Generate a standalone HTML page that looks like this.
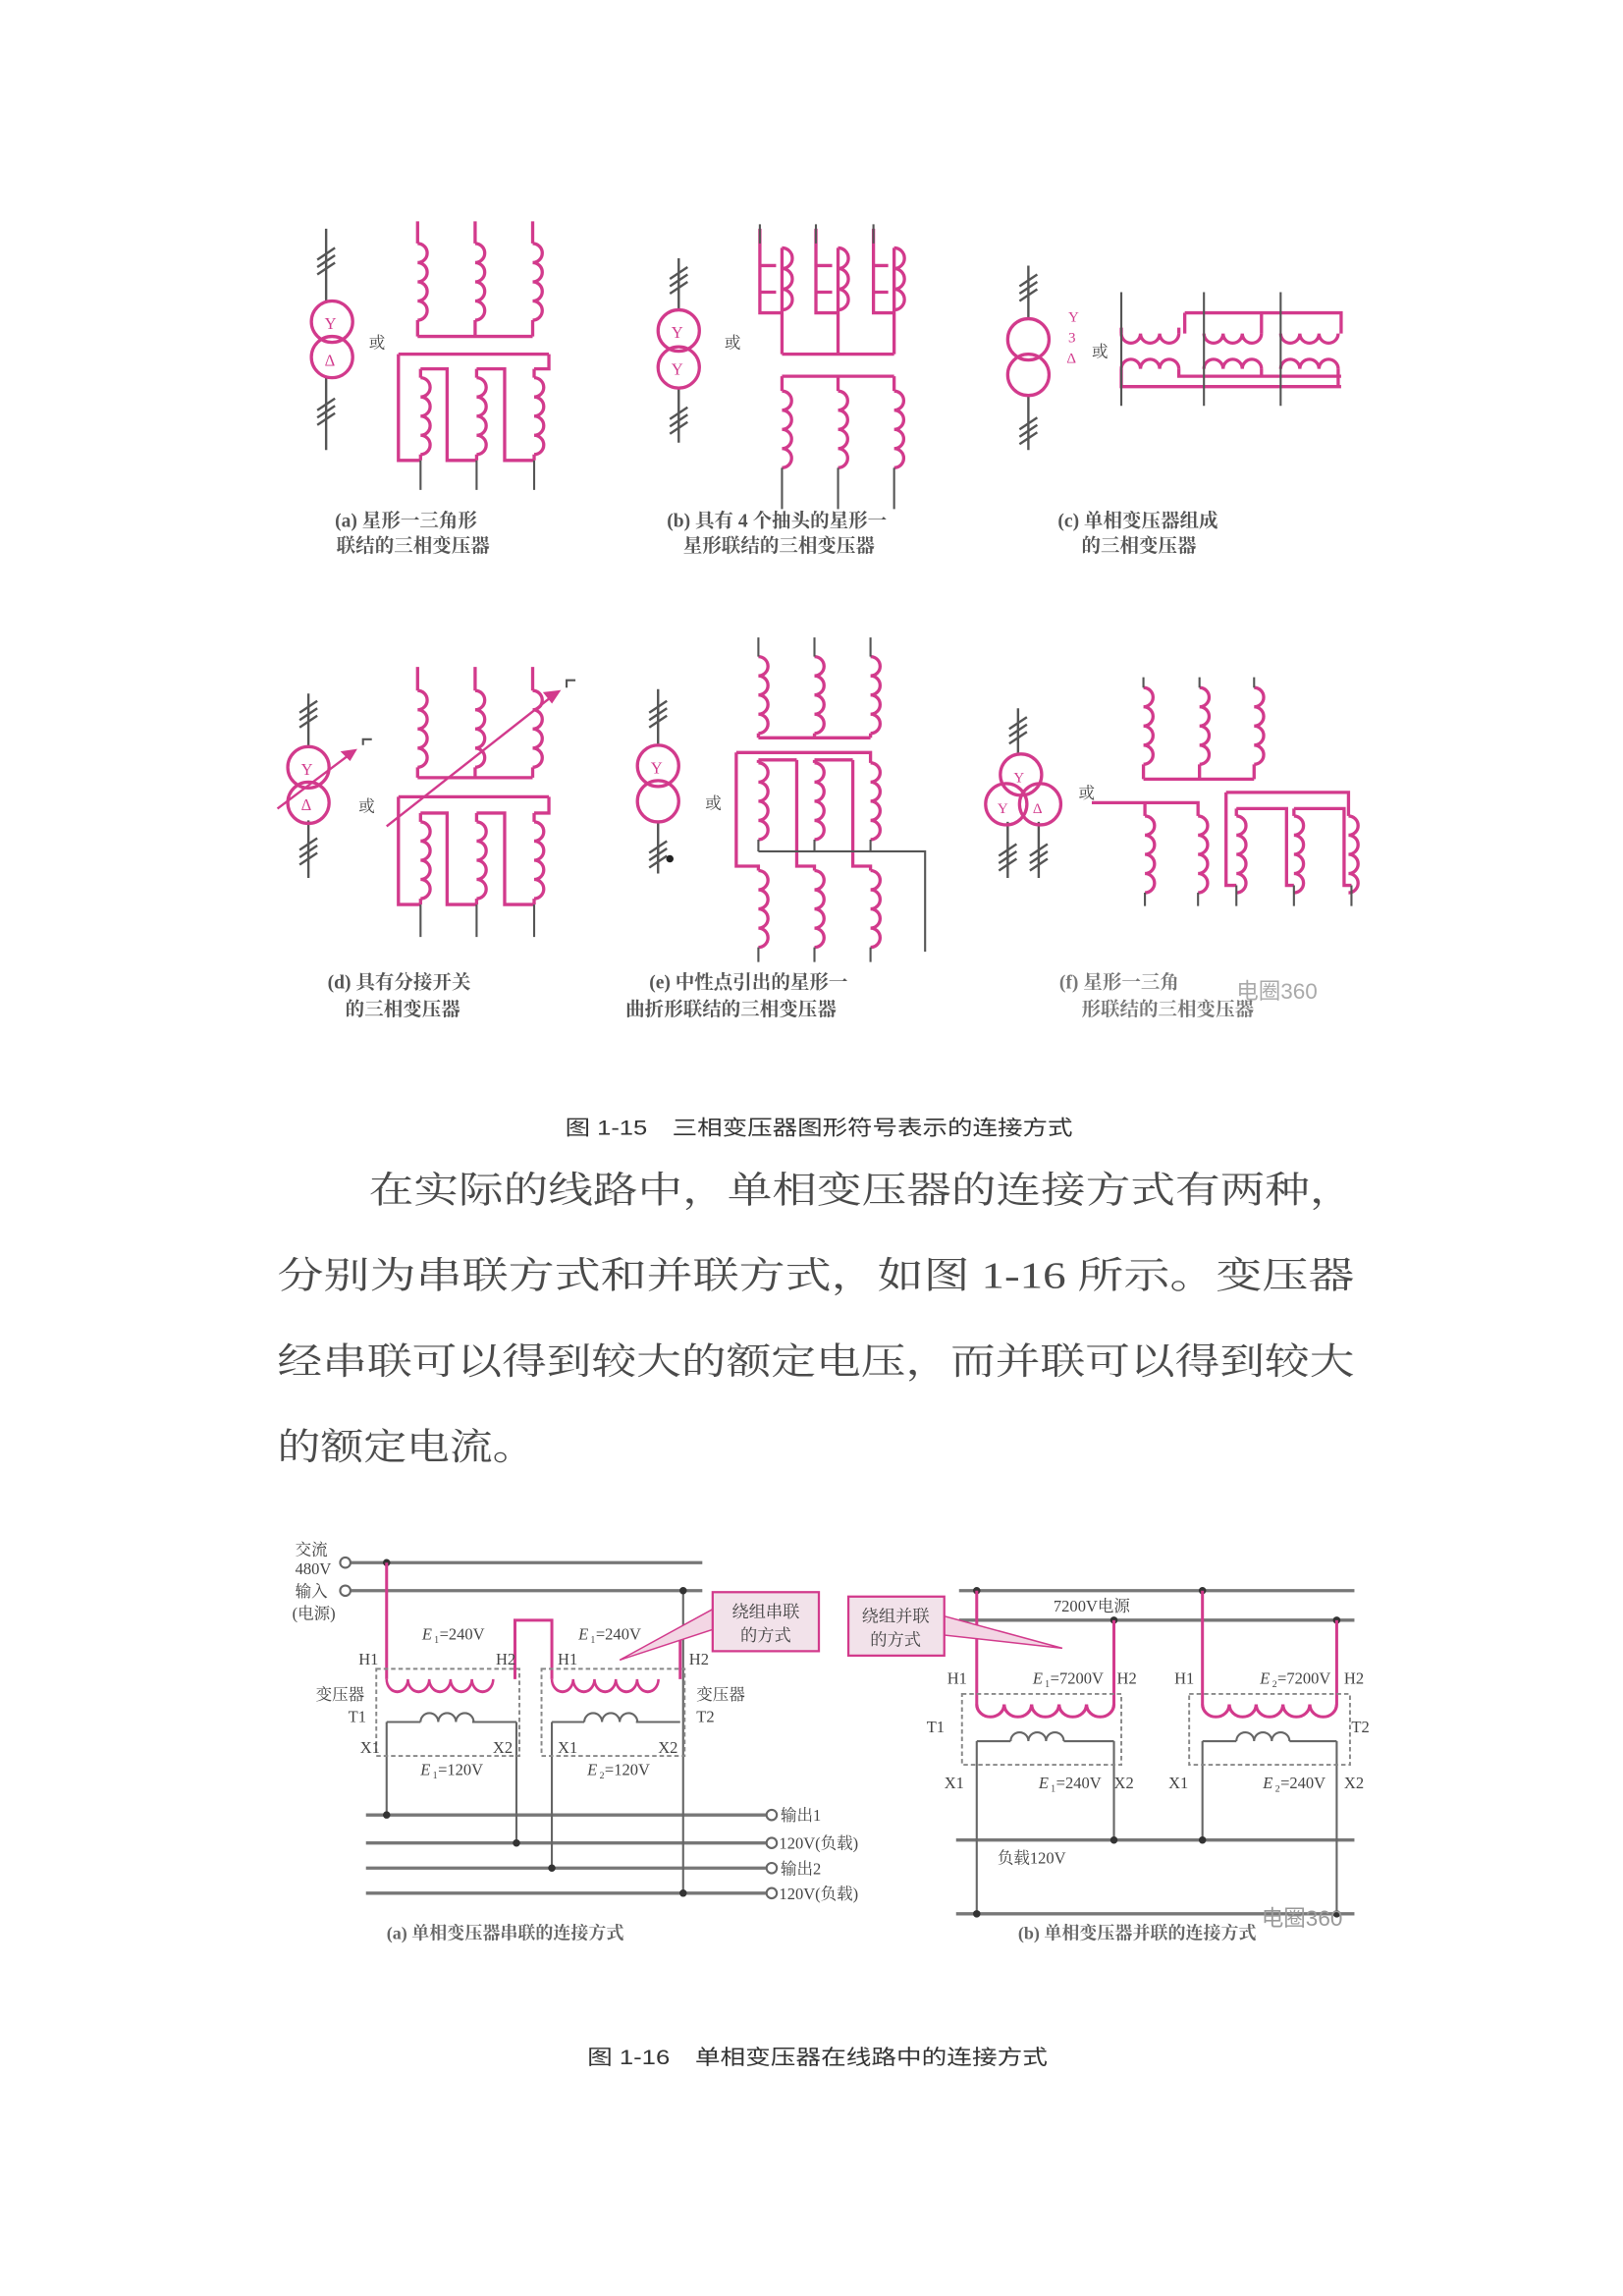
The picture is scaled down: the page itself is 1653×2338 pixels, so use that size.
<!DOCTYPE html>
<html><head><meta charset="utf-8"><style>
html,body{margin:0;padding:0;background:#fff}
svg{display:block}
</style></head><body>
<svg width="1653" height="2338" viewBox="0 0 1100 1556" xmlns="http://www.w3.org/2000/svg">
<defs>
<path id="vc" d="M0,0 a6.5,6.5 0 0 1 0,13 a6.5,6.5 0 0 1 0,13 a6.5,6.5 0 0 1 0,13 a6.5,6.5 0 0 1 0,13" fill="none"/>
<path id="vc3" d="M0,0 a7,7 0 0 1 0,14 a7,7 0 0 1 0,14 a7,7 0 0 1 0,14" fill="none"/>
<path id="hd3" d="M0,0 a6.5,6.5 0 0 0 13,0 a6.5,6.5 0 0 0 13,0 a6.5,6.5 0 0 0 13,0" fill="none"/>
<path id="hu3" d="M0,0 a6.5,6.5 0 0 1 13,0 a6.5,6.5 0 0 1 13,0 a6.5,6.5 0 0 1 13,0" fill="none"/>
<path id="hd5" d="M0,0 a8.5,8.5 0 0 0 17,0 a8.5,8.5 0 0 0 17,0 a8.5,8.5 0 0 0 17,0 a8.5,8.5 0 0 0 17,0 a8.5,8.5 0 0 0 17,0" fill="none"/>
<path id="hu3g" d="M0,0 a6,6 0 0 1 12,0 a6,6 0 0 1 12,0 a6,6 0 0 1 12,0" fill="none"/>
<g id="sl"><path d="M-6,6 L6,-2 M-6,11 L6,3 M-6,16 L6,8" stroke="#555" stroke-width="1.6"/></g>
</defs>

<g font-family="Liberation Serif, Noto Serif CJK SC, serif" fill="#444">
<!-- ===== (a) ===== -->
<g stroke="#555" stroke-width="1.6" fill="none"><path d="M221,155 V205 M221,256 V305"/></g>
<use href="#sl" x="221" y="170"/><use href="#sl" x="221" y="272"/>
<g stroke="#d23a8c" stroke-width="2.2" fill="none">
<circle cx="225" cy="218" r="14"/><circle cx="225" cy="242" r="14"/>
<path d="M283,150 V165 M322,150 V165 M361,150 V165"/>
<use href="#vc" x="283" y="165"/><use href="#vc" x="322" y="165"/><use href="#vc" x="361" y="165"/>
<path d="M283,217 V228 M322,217 V228 M361,217 V228 M283,228 H361"/>
<path d="M270,240 H372"/>
<path d="M270,240 V312 H285 M285,250 H303 V312 H323 M323,250 H342 V312 H362 M362,250 H372 V240"/>
<path d="M285,250 V256 M323,250 V256 M362,250 V256"/>
<use href="#vc" x="285" y="256"/><use href="#vc" x="323" y="256"/><use href="#vc" x="362" y="256"/>
<path d="M285,308 V312 M323,308 V312 M362,308 V312"/>
</g>
<g stroke="#555" stroke-width="1.4"><path d="M285,312 V332 M323,312 V332 M362,312 V332"/></g>
<text x="220" y="223" font-size="11" fill="#d23a8c">Y</text><text x="220" y="248" font-size="11" fill="#d23a8c">Δ</text>
<text x="250" y="236" font-size="11">或</text>
<text x="227" y="357" font-size="13" font-weight="bold" fill="#555">(a) 星形一三角形</text>
<text x="228" y="374" font-size="13" font-weight="bold" fill="#555">联结的三相变压器</text>

<!-- ===== (b) ===== -->
<g stroke="#555" stroke-width="1.6" fill="none"><path d="M460,175 V211 M460,262 V300"/></g>
<use href="#sl" x="460" y="183"/><use href="#sl" x="460" y="278"/>
<g stroke="#d23a8c" stroke-width="2.2" fill="none">
<circle cx="460" cy="224" r="14"/><circle cx="460" cy="249" r="14"/>
<path d="M515,155 V212 H530 M515,180 H526 M515,198 H526 M553,155 V212 H568 M553,180 H564 M553,198 H564 M592,155 V212 H606 M592,180 H602 M592,198 H602"/>
<path d="M530,168 V212 M568,168 V212 M606,168 V212"/>
<path d="M530,212 V240 M568,212 V240 M606,212 V240"/>
<use href="#vc3" x="530" y="168"/><use href="#vc3" x="568" y="168"/><use href="#vc3" x="606" y="168"/>
<path d="M530,240 H606 M530,255 H606 M530,255 V265 M568,255 V265 M606,255 V265"/>
<use href="#vc" x="530" y="265"/><use href="#vc" x="568" y="265"/><use href="#vc" x="606" y="265"/>
</g>
<g stroke="#555" stroke-width="1.4"><path d="M515,152 V165 M553,152 V165 M592,152 V165 M530,317 V345 M568,317 V345 M606,317 V345"/></g>
<text x="455" y="229" font-size="11" fill="#d23a8c">Y</text><text x="455" y="254" font-size="11" fill="#d23a8c">Y</text>
<text x="491" y="236" font-size="11">或</text>
<text x="452" y="357" font-size="13" font-weight="bold" fill="#555">(b) 具有 4 个抽头的星形一</text>
<text x="463" y="374" font-size="13" font-weight="bold" fill="#555">星形联结的三相变压器</text>

<!-- ===== (c) ===== -->
<g stroke="#555" stroke-width="1.6" fill="none"><path d="M697,180 V216 M697,268 V305"/></g>
<use href="#sl" x="697" y="188"/><use href="#sl" x="697" y="285"/>
<g stroke="#d23a8c" stroke-width="2.2" fill="none">
<circle cx="697" cy="230" r="14"/><circle cx="697" cy="254" r="14"/>
<path d="M803,212 H909 V226 M803,212 V226 M855,212 V226"/>
<use href="#hd3" x="760" y="226"/><use href="#hd3" x="816" y="226"/><use href="#hd3" x="868" y="226"/>
<path d="M799,226 V222 M760,226 V222"/>
<use href="#hu3" x="760" y="250"/><use href="#hu3" x="816" y="250"/><use href="#hu3" x="868" y="250"/>
<path d="M760,250 V262 H909 M799,250 V255 H909 M855,250 V255 M907,250 V262"/>
</g>
<g stroke="#555" stroke-width="1.4"><path d="M760,198 V275 M816,198 V275 M868,198 V275"/></g>
<text x="724" y="218" font-size="10" fill="#d23a8c">Y</text><text x="724" y="232" font-size="10" fill="#d23a8c">3</text><text x="723" y="246" font-size="10" fill="#d23a8c">Δ</text>
<text x="740" y="242" font-size="11">或</text>
<text x="717" y="357" font-size="13" font-weight="bold" fill="#555">(c) 单相变压器组成</text>
<text x="733" y="374" font-size="13" font-weight="bold" fill="#555">的三相变压器</text>

<!-- ===== (d) ===== -->
<g stroke="#555" stroke-width="1.6" fill="none"><path d="M209,470 V507 M209,556 V595"/></g>
<use href="#sl" x="209" y="477"/><use href="#sl" x="209" y="570"/>
<g stroke="#d23a8c" stroke-width="2.2" fill="none">
<circle cx="209" cy="520" r="14"/><circle cx="209" cy="544" r="14"/>
<path d="M283,452 V468 M322,452 V468 M361,452 V468"/>
<use href="#vc" x="283" y="468"/><use href="#vc" x="322" y="468"/><use href="#vc" x="361" y="468"/>
<path d="M283,520 V527 M322,520 V527 M361,520 V527 M283,527 H361"/>
<path d="M270,540 H372"/>
<path d="M270,540 V613 H285 M285,551 H303 V613 H323 M323,551 H342 V613 H362 M362,551 H372 V540"/>
<path d="M285,551 V557 M323,551 V557 M362,551 V557"/>
<use href="#vc" x="285" y="557"/><use href="#vc" x="323" y="557"/><use href="#vc" x="362" y="557"/>
<path d="M285,609 V613 M323,609 V613 M362,609 V613"/>
<path d="M188,548 L240,509 M262,560 L374,472" stroke-width="1.6"/>
<path d="M240,509 l-7,1 4,4 z M378,469 l-8,1 4,5 z" fill="#d23a8c"/>
</g>
<g stroke="#555" stroke-width="1.4" fill="none"><path d="M285,613 V635 M323,613 V635 M362,613 V635 M246,505 V501 H252 M384,466 V461 H390"/></g>
<text x="204" y="525" font-size="11" fill="#d23a8c">Y</text><text x="204" y="549" font-size="11" fill="#d23a8c">Δ</text>
<text x="243" y="550" font-size="11">或</text>
<text x="222" y="670" font-size="13" font-weight="bold" fill="#555">(d) 具有分接开关</text>
<text x="234" y="688" font-size="13" font-weight="bold" fill="#555">的三相变压器</text>

<!-- ===== (e) ===== -->
<g stroke="#555" stroke-width="1.6" fill="none"><path d="M446,467 V505 M446,557 V592"/></g>
<use href="#sl" x="446" y="477"/><use href="#sl" x="446" y="572"/>
<circle cx="454" cy="582" r="2.5" fill="#222"/>
<g stroke="#d23a8c" stroke-width="2.2" fill="none">
<circle cx="446" cy="519" r="14"/><circle cx="446" cy="543" r="14"/>
<use href="#vc" x="514" y="445"/><use href="#vc" x="552" y="445"/><use href="#vc" x="590" y="445"/>
<path d="M514,497 V500 M552,497 V500 M590,497 V500 M514,500 H590"/>
<path d="M499,510 H590 V517 M514,515 H540 M552,515 H578 M514,515 V517 M552,515 V517"/>
<use href="#vc" x="514" y="517"/><use href="#vc" x="552" y="517"/><use href="#vc" x="590" y="517"/>
<path d="M499,510 V587 H514 V590 M540,515 V587 H552 V590 M578,515 V587 H590 V590"/>
<use href="#vc" x="514" y="590"/><use href="#vc" x="552" y="590"/><use href="#vc" x="590" y="590"/>
</g>
<g stroke="#555" stroke-width="1.4" fill="none"><path d="M514,432 V445 M552,432 V445 M590,432 V445 M514,569 V577 M552,569 V577 M590,569 V577 M514,577 H627 V645 M514,642 V652 M552,642 V652 M590,642 V652"/></g>
<text x="441" y="524" font-size="11" fill="#d23a8c">Y</text>
<text x="478" y="548" font-size="11">或</text>
<text x="440" y="670" font-size="13" font-weight="bold" fill="#555">(e) 中性点引出的星形一</text>
<text x="424" y="688" font-size="13" font-weight="bold" fill="#555">曲折形联结的三相变压器</text>

<!-- ===== (f) ===== -->
<g stroke="#555" stroke-width="1.6" fill="none"><path d="M690,480 V512 M683,557 V595 M704,557 V595"/></g>
<use href="#sl" x="690" y="488"/><use href="#sl" x="683" y="574"/><use href="#sl" x="704" y="574"/>
<g stroke="#d23a8c" stroke-width="2.2" fill="none">
<circle cx="692" cy="525" r="14"/><circle cx="682" cy="545" r="14"/><circle cx="705" cy="545" r="14"/>
<use href="#vc" x="775" y="466"/><use href="#vc" x="813" y="466"/><use href="#vc" x="850" y="466"/>
<path d="M775,518 V528 M813,518 V528 M850,518 V528 M775,528 H850"/>
<path d="M740,544 H812 V553 M776,544 V553"/>
<use href="#vc" x="776" y="553"/><use href="#vc" x="812" y="553"/>
<path d="M831,537 H914 V553 M831,537 V600 H838 M838,548 H872 V600 H877 M877,548 H911 V600 H916 M838,548 V553 M877,548 V553"/>
<use href="#vc" x="838" y="553"/><use href="#vc" x="877" y="553"/><use href="#vc" x="914" y="553"/>
</g>
<g stroke="#555" stroke-width="1.4" fill="none"><path d="M775,459 V466 M813,459 V466 M850,459 V466 M776,605 V614 M812,605 V614 M838,600 V614 M877,600 V614 M916,600 V614"/></g>
<text x="687" y="530" font-size="10" fill="#d23a8c">Y</text><text x="676" y="551" font-size="10" fill="#d23a8c">Y</text><text x="700" y="551" font-size="10" fill="#d23a8c">Δ</text>
<text x="731" y="541" font-size="11">或</text>
<text x="718" y="670" font-size="13" font-weight="bold" fill="#777">(f) 星形一三角</text>
<text x="733" y="688" font-size="13" font-weight="bold" fill="#777">形联结的三相变压器</text>
<text x="838" y="677" font-size="15" fill="#aaa" font-family="Liberation Sans, Noto Sans CJK SC, sans-serif">电圈360</text>
</g>

<!-- captions & body -->
<g font-family="Liberation Sans, Noto Sans CJK SC, sans-serif" fill="#333">
<text x="383" y="769" font-size="14" textLength="344" lengthAdjust="spacingAndGlyphs">图 1-15　三相变压器图形符号表示的连接方式</text>
<text x="398" y="1399" font-size="14" textLength="312" lengthAdjust="spacingAndGlyphs">图 1-16　单相变压器在线路中的连接方式</text>
</g>
<g font-family="Liberation Serif, Noto Serif CJK SC, serif" fill="#4a4a4a" font-size="25">
<text x="250" y="815" textLength="668" lengthAdjust="spacingAndGlyphs">在实际的线路中，单相变压器的连接方式有两种，</text>
<text x="188" y="873" textLength="730" lengthAdjust="spacingAndGlyphs">分别为串联方式和并联方式，如图 1-16 所示。变压器</text>
<text x="188" y="931" textLength="730" lengthAdjust="spacingAndGlyphs">经串联可以得到较大的额定电压，而并联可以得到较大</text>
<text x="188" y="989" textLength="175" lengthAdjust="spacingAndGlyphs">的额定电流。</text>
</g>

<!-- ===== Figure 1-16 (a) ===== -->
<g font-family="Liberation Serif, Noto Serif CJK SC, serif" fill="#444" font-size="11">
<g stroke="#777" stroke-width="2.2" fill="none">
<path d="M238,1059 H476 M238,1078 H476"/>
<path d="M248,1230 H519 M248,1249 H519 M248,1266 H519 M248,1283 H519"/>
</g>
<g stroke="#666" stroke-width="1.4" fill="none">
<circle cx="234" cy="1059" r="3.5"/><circle cx="234" cy="1078" r="3.5"/>
<circle cx="523" cy="1230" r="3.5"/><circle cx="523" cy="1249" r="3.5"/><circle cx="523" cy="1266" r="3.5"/><circle cx="523" cy="1283" r="3.5"/>
<path d="M463,1078 V1283"/>
<path d="M262,1167 V1230 M350,1167 V1249 M374,1167 V1266"/>
<path d="M262,1167 H285 M320,1167 H350 M374,1167 H396 M431,1167 H461"/>
<use href="#hu3g" x="285" y="1167"/><use href="#hu3g" x="396" y="1167"/>
</g>
<g fill="#333"><circle cx="262" cy="1059" r="2.5"/><circle cx="463" cy="1078" r="2.5"/><circle cx="262" cy="1230" r="2.5"/><circle cx="350" cy="1249" r="2.5"/><circle cx="374" cy="1266" r="2.5"/><circle cx="463" cy="1283" r="2.5"/></g>
<g stroke="#d23a8c" stroke-width="2" fill="none">
<path d="M262,1059 V1138 M349,1138 V1098 H374 V1138 M461,1138 V1110"/>
<use href="#hd5" x="262" y="1138" transform="translate(262,1138) scale(0.85,1) translate(-262,-1138)"/>
<use href="#hd5" x="374" y="1138" transform="translate(374,1138) scale(0.85,1) translate(-374,-1138)"/>
</g>
<g stroke="#888" stroke-width="1.3" stroke-dasharray="3,2" fill="none">
<rect x="255" y="1131" width="97" height="59"/><rect x="367" y="1131" width="97" height="59"/>
</g>
<path d="M484,1090 L420,1125 L484,1104 Z" fill="#f3d6e4" stroke="#d23a8c" stroke-width="1"/>
<rect x="483" y="1079" width="72" height="40" fill="#f2e2ea" stroke="#d23a8c" stroke-width="1.5"/>
<text x="519" y="1096" text-anchor="middle" font-size="11.5">绕组串联</text>
<text x="519" y="1112" text-anchor="middle" font-size="11.5">的方式</text>
<text x="200" y="1054">交流</text><text x="200" y="1067">480V</text><text x="200" y="1082">输入</text><text x="198" y="1097">(电源)</text>
<text x="286" y="1111" font-style="italic">E</text><text x="294" y="1111">₁=240V</text>
<text x="392" y="1111" font-style="italic">E</text><text x="400" y="1111">₁=240V</text>
<text x="243" y="1128">H1</text><text x="336" y="1128">H2</text><text x="378" y="1128">H1</text><text x="467" y="1128">H2</text>
<text x="214" y="1152">变压器</text><text x="236" y="1167">T1</text>
<text x="472" y="1152">变压器</text><text x="472" y="1167">T2</text>
<text x="244" y="1188">X1</text><text x="334" y="1188">X2</text><text x="378" y="1188">X1</text><text x="446" y="1188">X2</text>
<text x="285" y="1203" font-style="italic">E</text><text x="293" y="1203">₁=120V</text>
<text x="398" y="1203" font-style="italic">E</text><text x="406" y="1203">₂=120V</text>
<text x="529" y="1234">输出1</text><text x="528" y="1253">120V(负载)</text>
<text x="529" y="1270">输出2</text><text x="528" y="1287">120V(负载)</text>
<text x="262" y="1314" font-size="12" font-weight="bold" fill="#666">(a) 单相变压器串联的连接方式</text>
</g>

<!-- ===== Figure 1-16 (b) ===== -->
<g font-family="Liberation Serif, Noto Serif CJK SC, serif" fill="#444" font-size="11">
<g stroke="#777" stroke-width="2.2" fill="none">
<path d="M650,1078 H918 M650,1098 H918 M648,1247 H918 M648,1297 H918"/>
</g>
<g stroke="#666" stroke-width="1.4" fill="none">
<path d="M662,1180 V1297 M755,1180 V1247 M815,1180 V1247 M906,1180 V1297"/>
<path d="M662,1180 H685 M721,1180 H755 M815,1180 H838 M874,1180 H906"/>
<use href="#hu3g" x="685" y="1180"/><use href="#hu3g" x="838" y="1180"/>
</g>
<g fill="#333"><circle cx="662" cy="1078" r="2.5"/><circle cx="815" cy="1078" r="2.5"/><circle cx="755" cy="1098" r="2.5"/><circle cx="906" cy="1098" r="2.5"/><circle cx="755" cy="1247" r="2.5"/><circle cx="815" cy="1247" r="2.5"/><circle cx="662" cy="1297" r="2.5"/><circle cx="906" cy="1297" r="2.5"/></g>
<g stroke="#d23a8c" stroke-width="2" fill="none">
<path d="M662,1078 V1155 M755,1155 V1098 M815,1078 V1155 M906,1155 V1098"/>
<use href="#hd5" x="662" y="1155" transform="translate(662,1155) scale(1.094,1) translate(-662,-1155)"/>
<use href="#hd5" x="815" y="1155" transform="translate(815,1155) scale(1.07,1) translate(-815,-1155)"/>
</g>
<g stroke="#888" stroke-width="1.3" stroke-dasharray="3,2" fill="none">
<rect x="652" y="1148" width="108" height="48"/><rect x="806" y="1148" width="109" height="48"/>
</g>
<path d="M639,1095 L720,1117 L639,1108 Z" fill="#f3d6e4" stroke="#d23a8c" stroke-width="1"/>
<rect x="575" y="1082" width="65" height="40" fill="#f2e2ea" stroke="#d23a8c" stroke-width="1.5"/>
<text x="607" y="1099" text-anchor="middle" font-size="11.5">绕组并联</text>
<text x="607" y="1115" text-anchor="middle" font-size="11.5">的方式</text>
<text x="714" y="1092">7200V电源</text>
<text x="642" y="1141">H1</text><text x="700" y="1141" font-style="italic">E</text><text x="708" y="1141">₁=7200V</text><text x="757" y="1141">H2</text>
<text x="796" y="1141">H1</text><text x="854" y="1141" font-style="italic">E</text><text x="862" y="1141">₂=7200V</text><text x="911" y="1141">H2</text>
<text x="628" y="1174">T1</text><text x="916" y="1174">T2</text>
<text x="640" y="1212">X1</text><text x="704" y="1212" font-style="italic">E</text><text x="712" y="1212">₁=240V</text><text x="755" y="1212">X2</text>
<text x="792" y="1212">X1</text><text x="856" y="1212" font-style="italic">E</text><text x="864" y="1212">₂=240V</text><text x="911" y="1212">X2</text>
<text x="676" y="1263">负载120V</text>
<text x="690" y="1314" font-size="12" font-weight="bold" fill="#666">(b) 单相变压器并联的连接方式</text>
<text x="855" y="1305" font-size="15" fill="#999" font-family="Liberation Sans, Noto Sans CJK SC, sans-serif">电圈360</text>
</g>
</svg>
</body></html>
